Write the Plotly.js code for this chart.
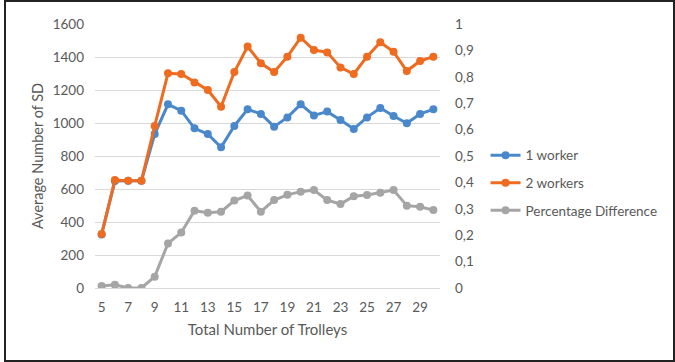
<!DOCTYPE html>
<html>
<head>
<meta charset="utf-8">
<script src="https://cdn.plot.ly/plotly-3.0.1.min.js"></script>
<style>
  html, body { margin: 0; padding: 0; background: #fff; }
  #wrap { position: relative; width: 675px; height: 362px; }
  #chart { width: 675px; height: 362px; }
  #frame { position: absolute; left: 4px; top: 0px; width: 667px; height: 358px;
           border: 2px solid #222; pointer-events: none; }
</style>
</head>
<body>
<div id="wrap">
  <div id="chart"></div>
  <div id="frame"></div>
</div>
<script>
const trolleys = [5,6,7,8,9,10,11,12,13,14,15,16,17,18,19,20,21,22,23,24,25,26,27,28,29,30];
const oneWorker = [325,648,650,650,933,1113,1075,968,933,853,982,1083,1055,978,1034,1113,1046,1069,1018,964,1034,1091,1042,998,1055,1083];
const twoWorkers = [327,654,650,650,982,1301,1297,1246,1200,1099,1309,1463,1362,1309,1402,1517,1442,1428,1337,1297,1402,1489,1432,1315,1376,1402];
const pctDiff = [0.008,0.012,0,0,0.043,0.169,0.21,0.293,0.285,0.289,0.331,0.35,0.289,0.333,0.353,0.365,0.371,0.333,0.318,0.348,0.352,0.361,0.371,0.312,0.308,0.295];
const xTickVals = [5,7,9,11,13,15,17,19,21,23,25,27,29];
const seriesNames = ['1 worker','2 workers','Percentage Difference'];
const colors = ['#4a88cc','#ee6b1f','#a5a5a5'];

const font = 'Lato, "Open Sans", sans-serif';
const textColor = '#595959';

const traces = [
  {x: trolleys, y: oneWorker, name: seriesNames[0], yaxis: 'y', legendgroup: 'a'},
  {x: trolleys, y: twoWorkers, name: seriesNames[1], yaxis: 'y', legendgroup: 'b'},
  {x: trolleys, y: pctDiff, name: seriesNames[2], yaxis: 'y2', legendgroup: 'c'}
].map((t, i) => Object.assign(t, {
  type: 'scatter', mode: 'lines+markers',
  line: {color: colors[i], width: 3},
  marker: {color: colors[i], size: 8}
}));

const layout = {
  width: 675, height: 362,
  margin: {l: 95, r: 231, t: 24, b: 74},
  paper_bgcolor: '#fff', plot_bgcolor: '#fff',
  separators: ',.',
  font: {family: font, size: 13, color: textColor},
  showlegend: true,
  legend: {x: 1.132, y: 0.398, xanchor: 'left', yanchor: 'middle',
           font: {family: font, size: 13.5, color: textColor},
           tracegroupgap: 7, itemwidth: 30},
  xaxis: {
    range: [4.5, 30.5], tickvals: xTickVals, ticks: '',
    showgrid: false, zeroline: false, showline: true, linecolor: '#d9d9d9', linewidth: 1,
    tickfont: {size: 13.5, color: textColor}, ticklabelstandoff: 7,
    title: {text: 'Total Number of Trolleys', font: {size: 15, color: textColor}, standoff: 10}
  },
  yaxis: {
    range: [0, 1600], dtick: 200, ticks: '',
    showgrid: true, gridcolor: '#d9d9d9', gridwidth: 1, zeroline: false,
    tickfont: {size: 13.5, color: textColor}, ticklabelstandoff: 10,
    title: {text: 'Average Number of SD', font: {size: 14.5, color: textColor}, standoff: 5}
  },
  yaxis2: {
    overlaying: 'y', side: 'right', range: [0, 1], dtick: 0.1, ticks: '',
    showgrid: false, zeroline: false,
    tickfont: {size: 13.5, color: textColor}, ticklabelstandoff: 14
  }
};

Plotly.newPlot('chart', traces, layout, {displayModeBar: false, staticPlot: true});
</script>
</body>
</html>
